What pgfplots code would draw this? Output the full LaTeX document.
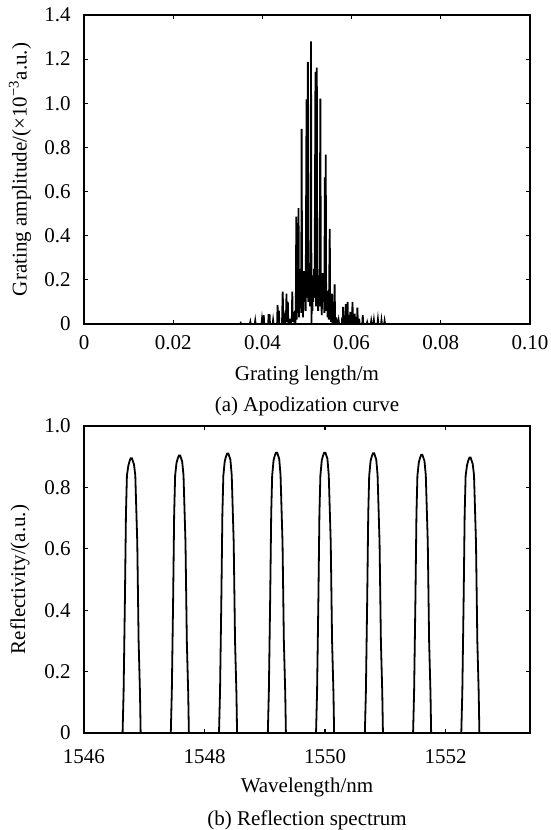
\documentclass[border=0pt]{standalone}
\usepackage{fontspec}
\setmainfont{Liberation Serif}
\usepackage{pgfplots}
\pgfplotsset{compat=1.18}
\begin{document}
\fontsize{10.5}{12.6}\selectfont
\begin{tikzpicture}
\path[use as bounding box] (0,0) rectangle (275.5pt,-415pt);
\pgfplotsset{
  every axis/.append style={
    scale only axis,
    width=223pt,
    axis line style={line width=1pt},
    tick style={line width=0.6pt, black},
    major tick length=2pt,
    tick align=inside,
    /pgf/number format/assume math mode=true,
    yticklabel style={anchor=east, xshift=-3pt},
    ylabel style={anchor=center},
  },
}
% ---------- (a) apodization curve ----------
\begin{axis}[
  at={(42pt,-162pt)}, anchor=south west,
  height=154.5pt,
  xmin=0, xmax=0.1, ymin=0, ymax=1.4,
  xtick={0,0.02,0.04,0.06,0.08,0.1},
  xticklabels={0,0.02,0.04,0.06,0.08,0.10},
  ytick={0,0.2,0.4,0.6,0.8,1.0,1.2,1.4},
  yticklabels={0,0.2,0.4,0.6,0.8,1.0,1.2,1.4},
  xticklabel style={anchor=center, yshift=-9.5pt},
  xlabel={Grating length/m},
  xlabel style={at={(axis description cs:0.5,-0.165)}, anchor=center},
  ylabel={Grating amplitude/(×10\textsuperscript{−3}a.u.)},
  ylabel style={at={(axis description cs:-0.1435,0.5)}},
]
\addplot[black, line width=0.9pt] coordinates {
(0,0) (0.0350,0) (0.03515,0.005) (0.0353,0)
(0.0372,0) (0.0373,0.01) (0.0374,0)
(0.0383,0) (0.0384,0.015) (0.0385,0)
(0.0398,0) (0.0399,0.02) (0.0400,0) (0.0402,0) (0.0403,0.04) (0.0404,0)
(0.0413,0) (0.0414,0.045) (0.0415,0.005) (0.0416,0.045) (0.0417,0)
(0.0423,0) (0.0424,0.017) (0.0425,0)
(0.0433,0) (0.0434,0.085) (0.0435,0.01) (0.0437,0.06) (0.0438,0)
(0.0444,0) (0.04455,0.147) (0.0447,0.01) (0.0450,0.035) (0.0451,0)
(0.0453,0.02) (0.0454,0.138) (0.0455,0.01) (0.0457,0.10) (0.0458,0)
(0.0461,0) (0.0462,0.024) (0.0463,0) (0.0466,0.02) (0.0467,0.147) (0.0468,0.01)
(0.0471,0.055) (0.0472,0) (0.0473,0.06) (0.0474,0)
(0.0475,0.10) (0.0476,0.487) (0.0477,0.02) (0.0478,0.20) (0.0479,0.05)
(0.0481,0.525) (0.0482,0.03) (0.0483,0.25) (0.0484,0.08) (0.0486,0.22)
(0.0487,0.05) (0.0488,0.884) (0.0489,0.06) (0.0490,0.18) (0.0491,0.03)
(0.0493,0.24) (0.0494,0.10) (0.0496,0.20) (0.0497,0.06) (0.0499,1.018)
(0.0500,0.12) (0.0501,0.22) (0.0502,1.188) (0.0503,0.10) (0.0504,0.275)
(0.0505,0.14) (0.0506,0.20) (0.0507,0.08) (0.0508,0.18) (0.0509,1.280)
(0.0510,0) (0.0511,0.15) (0.0512,0.06) (0.0513,0.22) (0.0514,0.10)
(0.0516,0.25) (0.0517,0.12) (0.0519,1.142) (0.0520,0.08) (0.0521,0.20)
(0.0522,1.162) (0.0523,0.10) (0.0524,0.22) (0.0525,0.06) (0.0527,0.18)
(0.0528,0.08) (0.0530,1.021) (0.0531,0.12) (0.0532,0.16) (0.0533,0.04)
(0.0535,0.23) (0.0536,0.10) (0.0538,0.15) (0.0539,0.05) (0.0540,0.664)
(0.0541,0.08) (0.0542,0.767) (0.0543,0.06) (0.0545,0.15) (0.0546,0.03)
(0.0548,0.12) (0.0549,0.02) (0.0551,0.431) (0.0552,0.05) (0.0553,0.10)
(0.0554,0.01) (0.0556,0.138) (0.0557,0) (0.0560,0.01) (0.0562,0.18) (0.0563,0)
(0.0565,0) (0.0566,0.03) (0.0567,0) (0.0570,0) (0.0571,0.015) (0.0572,0)
(0.0578,0) (0.0579,0.03) (0.0580,0) (0.0581,0.077) (0.0582,0)
(0.0586,0) (0.0587,0.09) (0.0588,0) (0.0591,0.10) (0.0592,0)
(0.0596,0) (0.0597,0.055) (0.0598,0) (0.0601,0) (0.0602,0.10) (0.0603,0)
(0.0606,0) (0.0607,0.047) (0.0608,0) (0.0612,0) (0.0613,0.074) (0.0614,0)
(0.0616,0) (0.0617,0.024) (0.0618,0) (0.0624,0) (0.0625,0.04) (0.0626,0)
(0.0634,0) (0.0635,0.008) (0.0636,0) (0.0643,0) (0.0644,0.014) (0.0645,0)
(0.0649,0) (0.0650,0.017) (0.0651,0) (0.0658,0) (0.0659,0.02) (0.0660,0)
(0.0666,0) (0.0667,0.017) (0.0668,0) (0.0673,0) (0.0674,0.014) (0.0675,0)
(0.1,0)
};
\end{axis}
% ---------- (b) reflection spectrum ----------
\begin{axis}[
  at={(42pt,-366.5pt)}, anchor=south west,
  height=153.5pt,
  xmin=1546, xmax=1553.4, ymin=0, ymax=1.0,
  xtick={1546,1548,1550,1552},
  xticklabels={1546,1548,1550,1552},
  ytick={0,0.2,0.4,0.6,0.8,1.0},
  yticklabels={0,0.2,0.4,0.6,0.8,1.0},
  xticklabel style={anchor=center, yshift=-12pt},
  xlabel={Wavelength/nm},
  xlabel style={at={(axis description cs:0.5,-0.179)}, anchor=center},
  ylabel={Reflectivity/(a.u.)},
  ylabel style={at={(axis description cs:-0.1435,0.5)}},
]
\addplot[black, line width=0.9pt] coordinates {
(1546,0)
(1546.640,0) (1546.657,0.134) (1546.679,0.437) (1546.696,0.713) (1546.712,0.838) (1546.735,0.870) (1546.755,0.885) (1546.775,0.895) (1546.795,0.895) (1546.812,0.885) (1546.829,0.875) (1546.851,0.84) (1546.884,0.62) (1546.906,0.30) (1546.929,0.13) (1546.940,0)
(1547.440,0) (1547.457,0.134) (1547.479,0.437) (1547.496,0.713) (1547.512,0.838) (1547.535,0.880) (1547.555,0.894) (1547.575,0.904) (1547.595,0.904) (1547.612,0.894) (1547.629,0.884) (1547.651,0.84) (1547.684,0.62) (1547.706,0.30) (1547.729,0.13) (1547.740,0)
(1548.240,0) (1548.257,0.134) (1548.279,0.437) (1548.296,0.713) (1548.312,0.838) (1548.335,0.885) (1548.355,0.900) (1548.375,0.910) (1548.395,0.910) (1548.412,0.900) (1548.429,0.890) (1548.451,0.84) (1548.484,0.62) (1548.506,0.30) (1548.529,0.13) (1548.540,0)
(1549.050,0) (1549.067,0.134) (1549.089,0.437) (1549.106,0.713) (1549.122,0.838) (1549.145,0.888) (1549.165,0.903) (1549.185,0.913) (1549.205,0.913) (1549.222,0.903) (1549.239,0.893) (1549.261,0.84) (1549.294,0.62) (1549.316,0.30) (1549.339,0.13) (1549.350,0)
(1549.850,0) (1549.867,0.134) (1549.889,0.437) (1549.906,0.713) (1549.922,0.838) (1549.945,0.888) (1549.965,0.903) (1549.985,0.913) (1550.005,0.913) (1550.022,0.903) (1550.039,0.893) (1550.061,0.84) (1550.094,0.62) (1550.116,0.30) (1550.139,0.13) (1550.150,0)
(1550.660,0) (1550.677,0.134) (1550.699,0.437) (1550.716,0.713) (1550.732,0.838) (1550.755,0.886) (1550.775,0.901) (1550.795,0.911) (1550.815,0.911) (1550.832,0.901) (1550.849,0.891) (1550.871,0.84) (1550.904,0.62) (1550.926,0.30) (1550.949,0.13) (1550.960,0)
(1551.460,0) (1551.477,0.134) (1551.499,0.437) (1551.516,0.713) (1551.532,0.838) (1551.555,0.881) (1551.575,0.896) (1551.595,0.906) (1551.615,0.906) (1551.632,0.896) (1551.649,0.886) (1551.671,0.84) (1551.704,0.62) (1551.726,0.30) (1551.749,0.13) (1551.760,0)
(1552.260,0) (1552.277,0.134) (1552.299,0.437) (1552.316,0.713) (1552.332,0.838) (1552.355,0.872) (1552.375,0.887) (1552.395,0.897) (1552.415,0.897) (1552.432,0.887) (1552.449,0.877) (1552.471,0.84) (1552.504,0.62) (1552.526,0.30) (1552.549,0.13) (1552.560,0)
(1553.4,0)
};
\end{axis}
\node[anchor=center] at (153.5pt,-203pt) {(a) Apodization curve};
\node[anchor=center] at (153.5pt,-410pt) {(b) Reflection spectrum};
\end{tikzpicture}
\end{document}
